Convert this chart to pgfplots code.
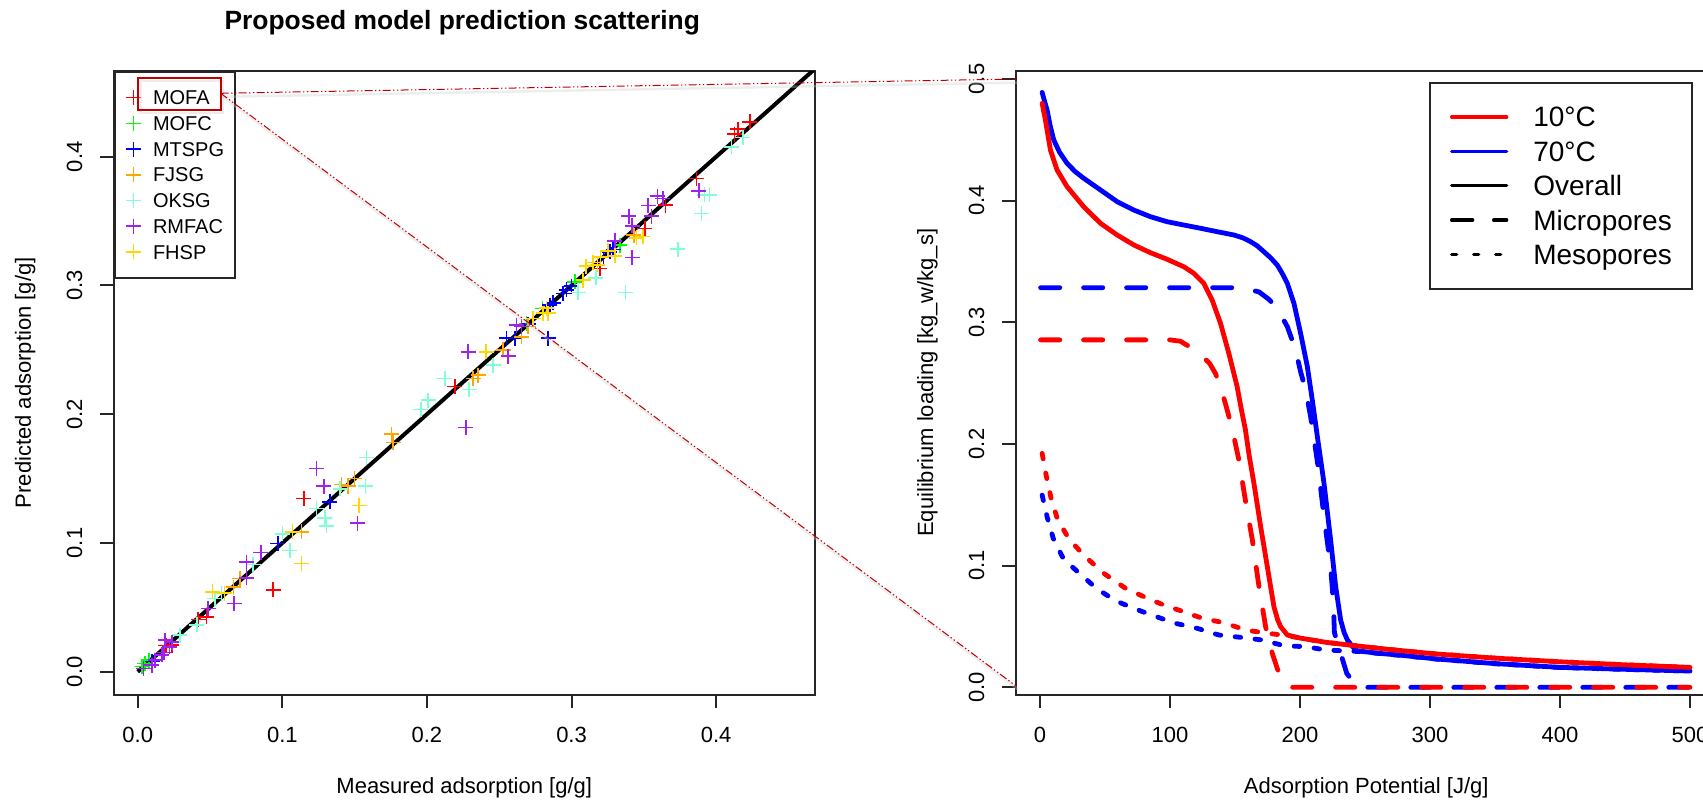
\documentclass[border=0pt]{standalone}
\usepackage{fontspec}
\setmainfont{Liberation Sans}
\usepackage{pgfplots}
\pgfplotsset{compat=1.18}
\definecolor{rOrange}{HTML}{FFA500}
\definecolor{rAqua}{HTML}{7FFFD4}
\definecolor{rPurple}{HTML}{A020F0}
\definecolor{rGold}{HTML}{FFD700}
\definecolor{rGreen}{HTML}{00FF00}
\definecolor{rRed}{HTML}{FF0000}
\definecolor{rBlue}{HTML}{0000FF}
\definecolor{annot}{HTML}{C00000}
\pgfplotsset{
  rbase/.style={
    scale only axis, width=350.25pt, height=311.75pt,
    axis line style={line width=1pt, black!85},
    every tick/.style={line width=1pt, black!85},
    tick align=outside, major tick length=6.85pt,
    tick pos=left,
    ticklabel style={font=\fontsize{11}{13}\selectfont, inner sep=0pt},
    xticklabel style={anchor=center, yshift=-13.25pt},
    yticklabel style={xshift=-12.9pt, rotate=90, anchor=center},
    every axis x label/.style={at={(axis description cs:0.5,0)}, anchor=base, yshift=-49.25pt, font=\fontsize{11}{13}\selectfont},
    every axis y label/.style={at={(axis description cs:0,0.5)}, xshift=-41.5pt, rotate=90, anchor=base, font=\fontsize{11}{13}\selectfont},
  },
  pm/.style={only marks, mark=+, mark size=3.75pt, mark options={line width=0.8pt}},
  ov/.style={line width=2.4pt, line cap=round, line join=round},
  mi/.style={line width=2.4pt, line cap=round, line join=round, dash pattern=on 9.6pt off 11.9pt},
  me/.style={line width=2.4pt, line cap=round, line join=round, dash pattern=on 2.8pt off 7.2pt},
}
\begin{document}
\begin{tikzpicture}
% ---------------- left panel ----------------
\begin{axis}[rbase, at={(57pt,52.25pt)}, anchor=south west,
  xmin=-0.0164, xmax=0.468, ymin=-0.0177, ymax=0.4666,
  xtick={0,0.1,0.2,0.3,0.4}, xticklabels={0.0,0.1,0.2,0.3,0.4},
  ytick={0,0.1,0.2,0.3,0.4}, yticklabels={0.0,0.1,0.2,0.3,0.4},
  xlabel={Measured adsorption [g/g]},
  ylabel={Predicted adsorption [g/g]},
  title={Proposed model prediction scattering},
  every axis title/.style={at={(axis description cs:0.5,1)}, anchor=base, xshift=-1pt, yshift=20.6pt, font=\bfseries\fontsize{13.2}{15}\selectfont},
  legend cell align=left,
  legend image code/.code={\draw[#1] plot coordinates {(0pt,0pt)};},
  legend style={at={(0,1)}, anchor=north west, draw=black!85, line width=1pt, fill=white,
    inner xsep=5.5pt, inner ysep=6.4pt, row sep=0pt,
    font=\fontsize{10}{12}\selectfont,
    nodes={inner sep=0pt, text height=10.025pt, text depth=2.825pt},
    /tikz/every odd column/.append style={column sep=6pt}},
]
\addplot[pm, color=rRed] table {
0.4232 0.4272
0.4150 0.4215
0.4128 0.4176
0.3863 0.3832
0.3651 0.3625
0.3506 0.3444
0.3195 0.3133
0.2193 0.2214
0.1149 0.1347
0.0937 0.0635
0.0477 0.0427
0.0418 0.0405
0.0235 0.0207
0.0195 0.0203
};
\addlegendentry{MOFA}
\addplot[pm, color=rGreen] table {
0.0050 0.0065
0.0030 0.0040
0.0080 0.0090
0.2688 0.2706
0.2800 0.2820
0.3022 0.3029
0.3333 0.3314
};
\addlegendentry{MOFC}
\addplot[pm, color=rBlue] table {
0.0968 0.0997
0.1329 0.1320
0.2550 0.2590
0.2607 0.2590
0.2700 0.2700
0.2838 0.2590
0.2850 0.2848
0.2872 0.2866
0.2941 0.2939
0.2965 0.2965
0.3000 0.2995
0.3220 0.3220
0.3264 0.3262
0.3287 0.3281
0.0100 0.0080
};
\addlegendentry{MTSPG}
\addplot[pm, color=rOrange] table {
0.0661 0.0656
0.0707 0.0725
0.1133 0.1087
0.1410 0.1455
0.1456 0.1442
0.1500 0.1500
0.1755 0.1846
0.1767 0.1779
0.2320 0.2279
0.2354 0.2304
0.2527 0.2499
0.2654 0.2602
0.2700 0.2680
0.3430 0.3390
};
\addlegendentry{FJSG}
\addplot[pm, color=rAqua] table {
0.0292 0.0285
0.0408 0.0363
0.0534 0.0570
0.0580 0.0609
0.0799 0.0834
0.1000 0.1070
0.1053 0.0940
0.1237 0.1269
0.1294 0.1196
0.1306 0.1134
0.1400 0.1420
0.1576 0.1442
0.1583 0.1665
0.1958 0.2038
0.2008 0.2110
0.2124 0.2279
0.2292 0.2193
0.2458 0.2382
0.3045 0.2947
0.3167 0.3060
0.3374 0.2947
0.3736 0.3283
0.3898 0.3560
0.3920 0.3703
0.3955 0.3703
0.4105 0.4078
0.4185 0.4148
};
\addlegendentry{OKSG}
\addplot[pm, color=rPurple] table {
0.0039 0.0026
0.0097 0.0052
0.0120 0.0090
0.0166 0.0130
0.0180 0.0150
0.0190 0.0246
0.0220 0.0194
0.0235 0.0230
0.0488 0.0492
0.0666 0.0531
0.0753 0.0730
0.0753 0.0850
0.0852 0.0927
0.1237 0.1580
0.1288 0.1442
0.1520 0.1153
0.2269 0.1898
0.2285 0.2485
0.2561 0.2452
0.2619 0.2693
0.2654 0.2680
0.3299 0.3346
0.3397 0.3539
0.3420 0.3464
0.3420 0.3216
0.3529 0.3620
0.3552 0.3539
0.3594 0.3695
0.3632 0.3677
0.3881 0.3734
};
\addlegendentry{RMFAC}
\addplot[pm, color=rGold] table {
0.0516 0.0621
0.0600 0.0610
0.1069 0.1087
0.1133 0.0842
0.1532 0.1290
0.2410 0.2485
0.2734 0.2745
0.2803 0.2784
0.2827 0.2823
0.2838 0.2784
0.3080 0.3042
0.3100 0.3150
0.3150 0.3180
0.3180 0.3160
0.3200 0.3220
0.3250 0.3270
0.3300 0.3230
0.3449 0.3371
0.3494 0.3379
};
\addlegendentry{FHSP}
\addplot[black, line width=2pt, forget plot] coordinates {(0,0) (0.5,0.5)};
\end{axis}
% ---------------- right panel ----------------
\begin{axis}[rbase, at={(508pt,52.25pt)}, anchor=south west,
  xmin=-18.4, xmax=520.4, ymin=-0.0059, ymax=0.5066,
  xtick={0,100,200,300,400,500}, xticklabels={0,100,200,300,400,500},
  ytick={0,0.1,0.2,0.3,0.4,0.5}, yticklabels={0.0,0.1,0.2,0.3,0.4,0.5},
  xlabel={Adsorption Potential [J/g]},
  ylabel={Equilibrium loading [kg\_w/kg\_s]},
  legend cell align=left,
  legend image code/.code={\draw[#1] (0pt,0pt) -- (27.5pt,0pt);},
  legend style={at={(0.5896,0.9828)}, anchor=north west, draw=black!85, line width=1pt, fill=white,
    inner xsep=10pt, inner ysep=8.5pt, row sep=0pt,
    font=\fontsize{14}{17}\selectfont,
    nodes={inner sep=0pt, text height=13.6pt, text depth=3.6pt},
    /tikz/every odd column/.append style={column sep=12.5pt}},
]
\addplot[ov, rBlue, forget plot] table {
1.7 0.489
3.5 0.482
5.5 0.4745
8.0 0.461
10.6 0.450
15.0 0.440
20.9 0.4307
27.0 0.424
33.7 0.4184
46.6 0.4088
59.4 0.3992
72.2 0.3923
85.1 0.3868
97.9 0.3827
110.7 0.3800
123.6 0.3773
136.4 0.3745
149.2 0.3718
156.0 0.3695
162.0 0.3663
167.0 0.3630
172.3 0.3580
177.5 0.3530
182.6 0.3470
186.5 0.3400
190.3 0.3320
195.4 0.3156
200.5 0.2910
205.7 0.2635
209.5 0.2361
213.4 0.2060
218.5 0.1677
223.6 0.1211
227.5 0.0827
231.3 0.0553
234.0 0.0450
236.5 0.0389
240.0 0.0340
244.0 0.0300
260.0 0.0280
277.5 0.0264
305.0 0.0233
350.0 0.0195
400.0 0.0164
450.0 0.0148
500.0 0.0134
};
\addplot[mi, rBlue, forget plot] table {
0.5 0.3285
149.0 0.3285
160.0 0.3272
168.5 0.3250
176.0 0.3190
182.6 0.3115
190.3 0.2964
196.7 0.2772
200.5 0.2594
204.4 0.2444
208.2 0.2224
212.1 0.1950
214.0 0.1810
218.5 0.1402
223.6 0.0991
225.7 0.0700
226.5 0.0450
231.0 0.0290
236.0 0.0115
242.5 0.0020
246.0 0.0
500.0 0.0
};
\addplot[me, rBlue, forget plot] table {
1.7 0.158
5.5 0.1402
10.2 0.1225
18.3 0.1052
30.4 0.0937
44.0 0.0808
58.7 0.0709
74.1 0.0641
89.7 0.0580
104.3 0.0526
121.0 0.0485
137.6 0.0430
154.3 0.0411
171.0 0.0389
187.7 0.0342
204.4 0.0334
219.8 0.0307
244.0 0.0295
277.5 0.0262
305.0 0.0232
350.0 0.0194
400.0 0.0163
450.0 0.0147
500.0 0.0133
};
\addplot[ov, rRed, forget plot] table {
1.7 0.480
4.2 0.4663
8.1 0.4416
13.2 0.4252
20.9 0.4115
33.7 0.3950
46.6 0.3814
59.4 0.3718
72.2 0.3636
85.1 0.3572
97.9 0.3518
110.7 0.3457
118.4 0.3403
126.1 0.3320
132.5 0.3183
138.9 0.2992
145.3 0.2745
151.7 0.2471
155.0 0.2280
158.0 0.2120
161.0 0.1900
164.6 0.1677
169.8 0.1320
174.9 0.0991
180.0 0.0662
183.0 0.0550
185.2 0.0498
190.3 0.0430
200.0 0.0405
220.0 0.0370
240.0 0.0345
270.0 0.0310
305.0 0.0274
350.0 0.0240
400.0 0.0210
450.0 0.0185
500.0 0.0164
};
\addplot[mi, rRed, forget plot] table {
0.5 0.2856
100.0 0.2856
108.0 0.2845
115.0 0.2800
122.0 0.2750
130.5 0.2663
135.0 0.2580
138.5 0.2485
143.0 0.2320
148.0 0.2120
153.0 0.1870
158.0 0.1540
163.4 0.1211
168.5 0.0827
173.6 0.0498
177.5 0.0320
182.7 0.0150
187.0 0.0060
190.4 0.0015
193.0 0.0
500.0 0.0
};
\addplot[me, rRed, forget plot] table {
1.7 0.1923
5.0 0.1731
8.6 0.1553
13.7 0.1375
22.9 0.1211
35.0 0.1073
49.1 0.0937
65.8 0.0814
79.9 0.0745
95.3 0.0676
110.7 0.0621
124.9 0.0567
141.5 0.0531
158.2 0.0471
174.9 0.0444
190.3 0.0425
200.0 0.0405
220.0 0.0370
240.0 0.0345
270.0 0.0310
305.0 0.0274
350.0 0.0240
400.0 0.0210
450.0 0.0185
500.0 0.0164
};
\addlegendimage{rRed, line width=1.65pt, line cap=round}
\addlegendentry{10°C}
\addlegendimage{rBlue, line width=1.65pt, line cap=round}
\addlegendentry{70°C}
\addlegendimage{black, line width=1.65pt, line cap=round}
\addlegendentry{Overall}
\addlegendimage{black, line width=1.65pt, line cap=round, dash pattern=on 10.5pt off 10.5pt}
\addlegendentry{Micropores}
\addlegendimage{black, line width=1.65pt, line cap=round, dash pattern=on 2.5pt off 8.5pt}
\addlegendentry{Mesopores}
\end{axis}
% ---------------- callout annotation ----------------
\draw[black!20, opacity=0.35, line width=1.2pt] (111.35pt,351.1pt) -- (509pt,358.2pt);
\draw[black!20, opacity=0.35, line width=1.2pt] (111.35pt,351.1pt) -- (509pt,54.8pt);
\draw[black!20, opacity=0.35, line width=1.2pt] (70.15pt,343pt) rectangle (111.35pt,358.85pt);
\draw[annot, line width=0.5pt, dash pattern=on 4pt off 1.2pt on 0.7pt off 1.2pt on 0.7pt off 1.2pt] (110.35pt,352.85pt) -- (508pt,360pt);
\draw[annot, line width=0.5pt, dash pattern=on 4pt off 1.2pt on 0.7pt off 1.2pt on 0.7pt off 1.2pt] (110.35pt,352.85pt) -- (508pt,56.5pt);
\draw[annot, line width=1pt] (69.15pt,344.5pt) rectangle (110.35pt,360.35pt);
\pgfresetboundingbox
\useasboundingbox (0,0) rectangle (851.5pt,399.5pt);
\end{tikzpicture}
\end{document}
